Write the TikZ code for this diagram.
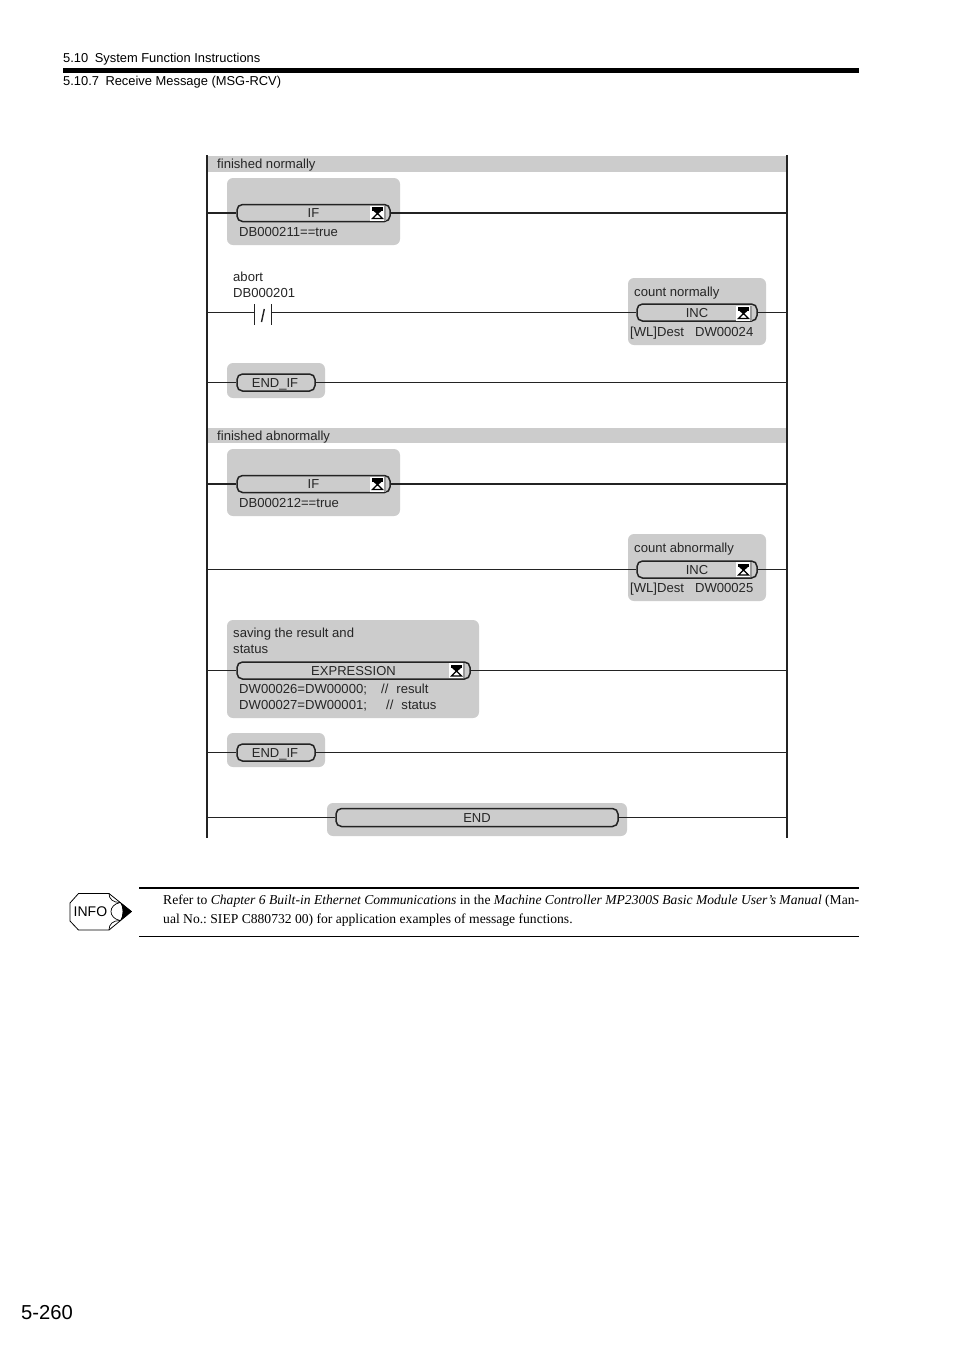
\documentclass[tikz,border=0pt]{standalone}
\usepackage{fontspec}
\setmainfont{Liberation Sans}
\newfontfamily\serifbody{Liberation Serif}
\usetikzlibrary{positioning}
\frenchspacing
\definecolor{panelgray}{RGB}{204,204,204}
\definecolor{linegray}{RGB}{35,35,35}
\tikzset{
  x=1pt,y=-1pt,
  panel/.style={fill=panelgray,draw=none,rounded corners=6pt},
  band/.style={fill=panelgray,draw=none},
  pill/.style={draw=linegray,fill=panelgray,line width=1.5pt,rounded corners=5.5pt,inner sep=0pt,text height=9.4pt,text depth=0pt,font=\fontsize{13}{15}\selectfont,text=black!85},
  rung/.style={draw=linegray,line width=1.2pt},
  thickrung/.style={draw=linegray,line width=2pt},
  rail/.style={draw=linegray,line width=2pt},
  ladtext/.style={anchor=base west,inner sep=0pt,font=\fontsize{13.1}{15}\selectfont,text=black!85},
  headtext/.style={anchor=base west,inner sep=0pt,font=\fontsize{12.9}{15}\selectfont},
  bodytext/.style={anchor=base west,inner sep=0pt,font=\serifbody\fontsize{13.6}{15}\selectfont},
}
% icon: #1 left x, #2 center y
\newcommand{\hgicon}[2]{%
  \fill[white] (#1-1.5,#2-7.5) rectangle (#1+13,#2+7.5);
  \fill[panelgray!75!black] (#1+12.5,#2-7.5) rectangle (#1+14.5,#2+7.5);
  \fill[black] (#1+1,#2-6) rectangle (#1+12,#2-2.5);
  \fill[black] (#1+1.5,#2-3) -- (#1+11.5,#2-3) -- (#1+6.5,#2+1.5) -- cycle;
  \draw[black,line width=1.2pt] (#1+6.5,#2+0.5) -- (#1+1.5,#2+5.5) -- (#1+11.5,#2+5.5) -- cycle;
}
\begin{document}
\begin{tikzpicture}
\useasboundingbox (0,0) rectangle (954,1350);
\fill[white] (0,0) rectangle (954,1350);

% page header
\node[headtext] (h1) at (63,62.3) {5.10\enspace System Function Instructions};
\fill[black] (63,68) rectangle (859,73);
\node[headtext] (h2) at (63,85.3) {5.10.7\enspace Receive Message (MSG-RCV)};

% bands
\fill[band] (208,156) rectangle (787,172);
\fill[band] (208,428) rectangle (787,443);

% rails
\coordinate (ltop) at (207,155);
\coordinate (lbot) at (207,838);
\coordinate (rtop) at (787,155);
\coordinate (rbot) at (787,838);

% panels
\fill[panel] (227,178) rectangle (400,245);
\fill[panel] (628,278) rectangle (766,345);
\fill[panel] (227,363) rectangle (325,398);
\fill[panel] (227,449) rectangle (400,516);
\fill[panel] (628,534) rectangle (766,601);
\fill[panel] (227,620) rectangle (479,718);
\fill[panel] (227,733) rectangle (325,767);
\fill[panel] (327,803) rectangle (627,836);

\draw[rail] (ltop) -- (lbot);
\draw[rail] (rtop) -- (rbot);

% band labels
\node[ladtext] (b1) at (217,168.5) {finished normally};
\node[ladtext] (b2) at (217,440) {finished abnormally};

% instruction pills
\node[pill,minimum width=153pt,minimum height=17pt] (if1) at (313.5,213) {IF};
\node[pill,minimum width=120pt,minimum height=17pt] (inc1) at (697,312.5) {INC};
\node[pill,minimum width=78pt,minimum height=17pt] (endif1) at (276,382.5) {\hspace*{-2pt}END\_IF};
\node[pill,minimum width=153pt,minimum height=17pt] (if2) at (313.5,484) {IF};
\node[pill,minimum width=120pt,minimum height=17pt] (inc2) at (697,569.5) {INC};
\node[pill,minimum width=233pt,minimum height=17pt] (expr) at (353.5,670.5) {EXPRESSION};
\node[pill,minimum width=78pt,minimum height=17pt] (endif2) at (276,752.5) {\hspace*{-2pt}END\_IF};
\node[pill,minimum width=282pt,minimum height=18pt] (endn) at (477,817.5) {END};

\hgicon{371}{213}
\hgicon{737}{313}
\hgicon{371}{484}
\hgicon{737}{569.5}
\hgicon{450}{670.5}

% contact
\coordinate (ca) at (254.5,312.5);
\coordinate (cb) at (271.5,312.5);
\draw[rung] (254.5,304) -- (254.5,325);
\draw[rung] (271.5,304) -- (271.5,325);
\draw[rung,line width=1.4pt] (264.3,309) -- (261.5,322);

% rungs
\draw[thickrung] (ltop|-if1.west) -- (if1.west);
\draw[thickrung] (if1.east) -- (rtop|-if1.east);
\draw[rung] (ltop|-ca) -- (ca);
\draw[rung] (cb) -- (inc1.west);
\draw[rung] (inc1.east) -- (rtop|-inc1.east);
\draw[rung] (ltop|-endif1.west) -- (endif1.west);
\draw[rung] (endif1.east) -- (rtop|-endif1.east);
\draw[thickrung] (ltop|-if2.west) -- (if2.west);
\draw[thickrung] (if2.east) -- (rtop|-if2.east);
\draw[rung] (ltop|-inc2.west) -- (inc2.west);
\draw[rung] (inc2.east) -- (rtop|-inc2.east);
\draw[rung] (ltop|-expr.west) -- (expr.west);
\draw[rung] (expr.east) -- (rtop|-expr.east);
\draw[rung] (ltop|-endif2.west) -- (endif2.west);
\draw[rung] (endif2.east) -- (rtop|-endif2.east);
\draw[rung] (ltop|-endn.west) -- (endn.west);
\draw[rung] (endn.east) -- (rtop|-endn.east);

% ladder text
\node[ladtext] (t1) at (239,236) {DB000211==true};
\node[ladtext] (t2) at (233,281) {abort};
\node[ladtext] (t3) at (233,297.3) {DB000201};
\node[ladtext] (t4) at (634,296) {count normally};
\node[ladtext] (t5) at (630,336) {[WL]Dest\hspace{11pt}DW00024};
\node[ladtext] (t6) at (239,507) {DB000212==true};
\node[ladtext] (t7) at (634,552.5) {count abnormally};
\node[ladtext] (t8) at (630,592) {[WL]Dest\hspace{11pt}DW00025};
\node[ladtext] (t9) at (233,637.3) {saving the result and};
\node[ladtext] (t10) at (233,653.3) {status};
\node[ladtext] (t11) at (239,693.3) {DW00026=DW00000;};
\node[ladtext] (t11b) at (381,693.3) {//\hspace{8pt}result};
\node[ladtext] (t12) at (239,709) {DW00027=DW00001;};
\node[ladtext] (t12b) at (386,709) {//\hspace{8pt}status};

% info icon
\draw[black,line width=0.8pt,line join=round,fill=white] (70,903) -- (78.5,893.5) -- (109,893.5) -- (131.5,911.5) -- (109,930) -- (78.5,930) -- (70,921) -- cycle;
\draw[black,line width=0.7pt] (109,893.5) .. controls (109,899) and (113,902.5) .. (120,902.5);
\draw[black,line width=0.7pt] (120,902.5) .. controls (108,905) and (108,918) .. (120,920.5);
\draw[black,line width=0.7pt] (109,930) .. controls (109,924) and (113,920.5) .. (120,920.5);
\fill[black] (120,902) -- (131.5,911.5) -- (120,921) .. controls (123.5,916) and (123.5,907) .. (120,902) -- cycle;
\node[anchor=west,inner sep=0pt,font=\fontsize{14}{16}\selectfont] (info) at (73.5,911.5) {INFO};

% note
\draw[black,line width=1.8pt] (139,888) -- (859,888);
\draw[black,line width=0.8pt] (139,936.5) -- (859,936.5);
\node[bodytext] (n1) at (163,904.6) {\hbox to 696pt{Refer to \textit{Chapter 6 Built-in Ethernet Communications} in the \textit{Machine Controller MP2300S Basic Module User’s Manual} (Man-}};
\node[bodytext] (n2) at (163,923.7) {ual No.: SIEP C880732 00) for application examples of message functions.};

% page number
\node[anchor=west,inner sep=0pt,font=\fontsize{20.2}{24}\selectfont] (pg) at (21,1312.5) {5-260};
\end{tikzpicture}
\end{document}
